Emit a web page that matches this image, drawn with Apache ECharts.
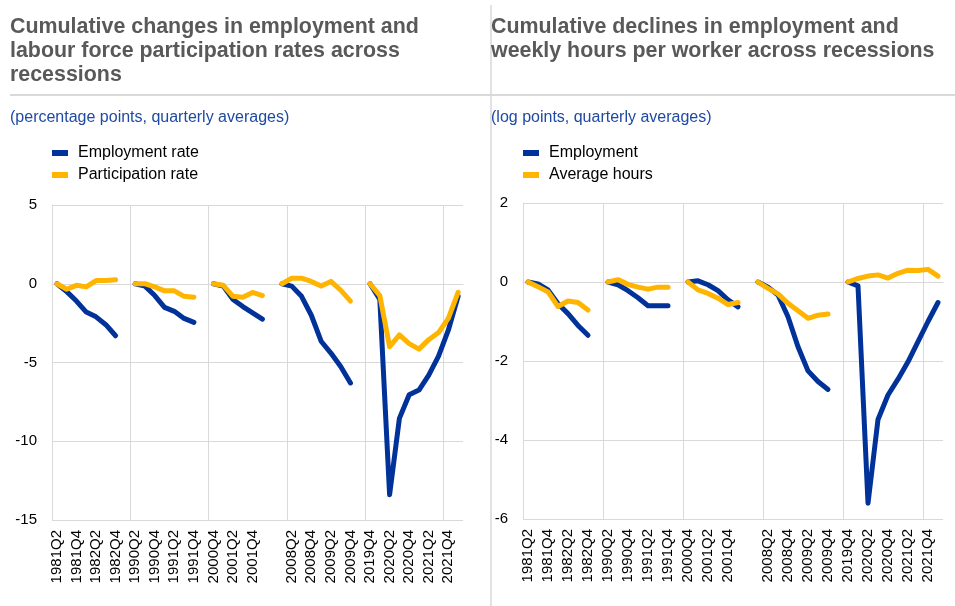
<!DOCTYPE html>
<html>
<head>
<meta charset="utf-8">
<script src="https://cdn.jsdelivr.net/npm/echarts@6/dist/echarts.min.js"></script>
<style>
html,body{margin:0;padding:0;background:#fff;}
#main{width:955px;height:606px;}
</style>
</head>
<body>
<div id="main"></div>
<script>
var categories = ['1981Q2','1981Q3','1981Q4','1982Q1','1982Q2','1982Q3','1982Q4','',
  '1990Q2','1990Q3','1990Q4','1991Q1','1991Q2','1991Q3','1991Q4','',
  '2000Q4','2001Q1','2001Q2','2001Q3','2001Q4','2002Q1','',
  '2008Q1','2008Q2','2008Q3','2008Q4','2009Q1','2009Q2','2009Q3','2009Q4','',
  '2019Q4','2020Q1','2020Q2','2020Q3','2020Q4','2021Q1','2021Q2','2021Q3','2021Q4','2022Q1'];

var employmentRate = [0,-0.5,-1.1,-1.8,-2.1,-2.6,-3.3,null,
  0,-0.15,-0.75,-1.5,-1.75,-2.2,-2.45,null,
  0,-0.15,-1.0,-1.45,-1.85,-2.25,null,
  0,-0.15,-0.8,-2.0,-3.65,-4.4,-5.25,-6.3,null,
  0,-1.0,-13.4,-8.55,-7.05,-6.75,-5.8,-4.6,-2.95,-0.8];

var participationRate = [0,-0.35,-0.1,-0.2,0.2,0.2,0.25,null,
  0,0,-0.2,-0.45,-0.45,-0.8,-0.85,null,
  0,-0.1,-0.8,-0.85,-0.55,-0.75,null,
  0,0.35,0.35,0.15,-0.15,0.15,-0.4,-1.1,null,
  0,-0.75,-4.0,-3.25,-3.8,-4.15,-3.55,-3.1,-2.2,-0.55];

var employment = [0,-0.05,-0.2,-0.55,-0.8,-1.1,-1.35,null,
  0,-0.07,-0.22,-0.4,-0.6,-0.6,-0.6,null,
  0,0.03,-0.07,-0.22,-0.45,-0.63,null,
  0,-0.13,-0.33,-0.88,-1.64,-2.25,-2.52,-2.72,null,
  0,-0.1,-5.6,-3.48,-2.86,-2.46,-2.02,-1.51,-1.0,-0.52];

var averageHours = [0,-0.12,-0.25,-0.62,-0.48,-0.52,-0.71,null,
  0,0.06,-0.06,-0.13,-0.18,-0.13,-0.13,null,
  0,-0.2,-0.29,-0.41,-0.57,-0.52,null,
  0,-0.16,-0.3,-0.54,-0.73,-0.92,-0.84,-0.81,null,
  0,0.09,0.15,0.18,0.1,0.22,0.3,0.29,0.32,0.15];

var leftTicks = {min:-15, max:5, interval:5};
var rightTicks = {min:-6, max:2, interval:2};

var FONT = 'Liberation Sans, Arial, Helvetica, sans-serif';
var BLUE = '#003299';
var YELLOW = '#FFB400';
var GRID = '#d9d9d9';

function xAxis(gi){
  return {
    type:'category', gridIndex:gi, data:categories, boundaryGap:true,
    axisLine:{show:true, lineStyle:{color:GRID, width:1}},
    axisTick:{show:false, interval:7},
    splitLine:{show:true, interval:7, showMaxLine:false, lineStyle:{color:GRID, width:1}},
    axisLabel:{interval:1, rotate:90, fontSize:15, color:'#000', fontFamily:FONT, margin:10}
  };
}
function yAxis(gi, t){
  return {
    type:'value', gridIndex:gi, min:t.min, max:t.max, interval:t.interval,
    axisLine:{show:true, lineStyle:{color:GRID, width:1}},
    axisTick:{show:false},
    splitLine:{show:true, lineStyle:{color:GRID, width:1}},
    axisLabel:{fontSize:15, color:'#000', fontFamily:FONT, margin:15}
  };
}
function line(name, data, color, gi){
  return {
    name:name, type:'line', xAxisIndex:gi, yAxisIndex:gi, data:data,
    symbol:'none', smooth:false, connectNulls:false, animation:false,
    lineStyle:{color:color, width:5, cap:'round', join:'round'},
    itemStyle:{color:color}
  };
}

var titleStyle = {fontFamily:FONT, fontSize:21.4, fontWeight:'bold', color:'#595959', lineHeight:24};
var subStyle = {fontFamily:FONT, fontSize:16, fontWeight:'normal', color:'#1f4aa3'};
var legendText = {fontFamily:FONT, fontSize:16, color:'#000', padding:[0,0,0,5]};

var chart = echarts.init(document.getElementById('main'), null, {renderer:'canvas'});
chart.setOption({
  backgroundColor:'#fff',
  animation:false,
  title:[
    {text:'Cumulative changes in employment and\nlabour force participation rates across\nrecessions',
     left:10, top:15, padding:0, textStyle:titleStyle},
    {text:'Cumulative declines in employment and\nweekly hours per worker across recessions',
     left:491, top:15, padding:0, textStyle:titleStyle},
    {text:'(percentage points, quarterly averages)', left:10, top:110, padding:0, textStyle:subStyle},
    {text:'(log points, quarterly averages)', left:491, top:110, padding:0, textStyle:subStyle}
  ],
  legend:[
    {data:['Employment rate','Participation rate'], left:52, top:145, orient:'vertical', padding:0,
     icon:'rect', itemWidth:16, itemHeight:6, itemGap:6, textStyle:legendText},
    {data:['Employment','Average hours'], left:523, top:145, orient:'vertical', padding:0,
     icon:'rect', itemWidth:16, itemHeight:6, itemGap:6, textStyle:legendText}
  ],
  grid:[
    {left:52, right:492, top:205, bottom:86, containLabel:false},
    {left:523, right:12, top:203, bottom:87, containLabel:false}
  ],
  xAxis:[xAxis(0), xAxis(1)],
  yAxis:[yAxis(0, leftTicks), yAxis(1, rightTicks)],
  series:[
    line('Employment rate', employmentRate, BLUE, 0),
    line('Participation rate', participationRate, YELLOW, 0),
    line('Employment', employment, BLUE, 1),
    line('Average hours', averageHours, YELLOW, 1)
  ],
  graphic:[
    {type:'line', shape:{x1:10, y1:95, x2:955, y2:95}, style:{stroke:GRID, lineWidth:2}, silent:true},
    {type:'line', shape:{x1:491, y1:5, x2:491, y2:606}, style:{stroke:GRID, lineWidth:1.5}, silent:true}
  ]
});
</script>
</body>
</html>
